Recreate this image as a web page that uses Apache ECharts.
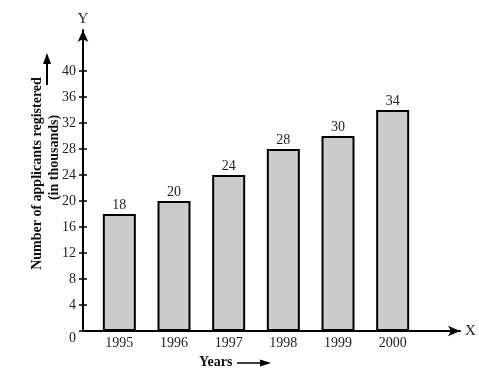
<!DOCTYPE html>
<html>
<head>
<meta charset="utf-8">
<script src="https://cdn.jsdelivr.net/npm/echarts@6/dist/echarts.min.js"></script>
<style>html,body{margin:0;padding:0;background:#fff}#c{width:479px;height:375px}</style>
</head>
<body>
<div id="c"></div>
<script>
var categories = ['1995', '1996', '1997', '1998', '1999', '2000'];
var applicants = [18, 20, 24, 28, 30, 34];
var yTicks = [0, 4, 8, 12, 16, 20, 24, 28, 32, 36, 40];

var FONT = '"Liberation Serif", "Times New Roman", serif';
var chart = echarts.init(document.getElementById('c'), null, {renderer: 'canvas'});
chart.setOption({
  animation: false,
  backgroundColor: '#fff',
  grid: [
    {left: 92, width: 328, top: 30, bottom: 44, containLabel: false},
    {left: 83, width: 377, top: 30, bottom: 44, containLabel: false}
  ],
  xAxis: [
    {
      type: 'category', gridIndex: 0, data: categories,
      axisLine: {show: false}, axisTick: {show: false},
      axisLabel: {color: '#222', fontFamily: FONT, fontSize: 14, margin: 5}
    },
    {
      type: 'value', gridIndex: 1, min: 0, max: 1,
      axisLine: {show: true, symbol: ['none', 'arrow'], symbolSize: [8, 12], lineStyle: {color: '#000', width: 2}},
      axisTick: {show: false}, axisLabel: {show: false}, splitLine: {show: false},
      name: 'X', nameLocation: 'end', nameGap: 5,
      nameTextStyle: {color: '#222', fontFamily: FONT, fontSize: 15}
    }
  ],
  yAxis: [
    {
      type: 'value', gridIndex: 0, min: 0, max: 46.3, offset: 9,
      axisLine: {show: true, symbol: ['none', 'arrow'], symbolSize: [8, 12], lineStyle: {color: '#000', width: 2}},
      axisTick: {show: true, length: 4, customValues: yTicks, lineStyle: {color: '#000', width: 1.5}},
      axisLabel: {
        customValues: yTicks, color: '#222', fontFamily: FONT, fontSize: 14, margin: 7,
        formatter: function (v) { return v === 0 ? '{z|0}' : String(v); },
        rich: {z: {color: '#222', fontFamily: FONT, fontSize: 14, padding: [14, 0, 0, 0]}}
      },
      splitLine: {show: false},
      name: '{a|Number of applicants registered}\n{b|(in thousands)}',
      nameLocation: 'middle', nameRotate: 90, nameGap: 20, nameMoveOverlap: false,
      nameTextStyle: {
        color: '#111', fontFamily: FONT, fontSize: 14, fontWeight: 'bold', lineHeight: 17,
        rich: {
          a: {color: '#111', fontFamily: FONT, fontSize: 14, fontWeight: 'bold', lineHeight: 17, padding: [0, 0, 0, 14]},
          b: {color: '#111', fontFamily: FONT, fontSize: 14, fontWeight: 'bold', lineHeight: 17, padding: [0, 0, 0, 46]}
        }
      }
    },
    {
      type: 'value', gridIndex: 0, min: 0, max: 46.3, offset: 9, position: 'left',
      axisLine: {show: false},
      axisTick: {show: true, inside: true, length: 4, customValues: yTicks, lineStyle: {color: '#000', width: 1.5}},
      axisLabel: {show: false}, splitLine: {show: false},
      name: 'Y', nameLocation: 'end', nameGap: 3,
      nameTextStyle: {color: '#222', fontFamily: FONT, fontSize: 15, align: 'center'}
    },
    {type: 'value', gridIndex: 1, show: false}
  ],
  series: [{
    type: 'bar', xAxisIndex: 0, yAxisIndex: 0, data: applicants,
    barWidth: 33,
    itemStyle: {color: '#cbcbcb', borderColor: '#000', borderWidth: 2},
    label: {show: true, position: 'top', distance: 2, color: '#222', fontFamily: FONT, fontSize: 14}
  }],
  graphic: [
    {type: 'line', shape: {x1: 47, y1: 85, x2: 47, y2: 62}, style: {stroke: '#000', lineWidth: 2}},
    {type: 'polygon', shape: {points: [[47, 53], [43, 64], [51, 64]]}, style: {fill: '#000'}},
    {type: 'text', left: 199, top: 355, style: {text: 'Years', fill: '#111', font: 'bold 14px ' + FONT}},
    {type: 'line', shape: {x1: 237, y1: 363, x2: 262, y2: 363}, style: {stroke: '#000', lineWidth: 1.5}},
    {type: 'polygon', shape: {points: [[271, 363], [260, 359.5], [260, 366.5]]}, style: {fill: '#000'}}
  ]
});
</script>
</body>
</html>
